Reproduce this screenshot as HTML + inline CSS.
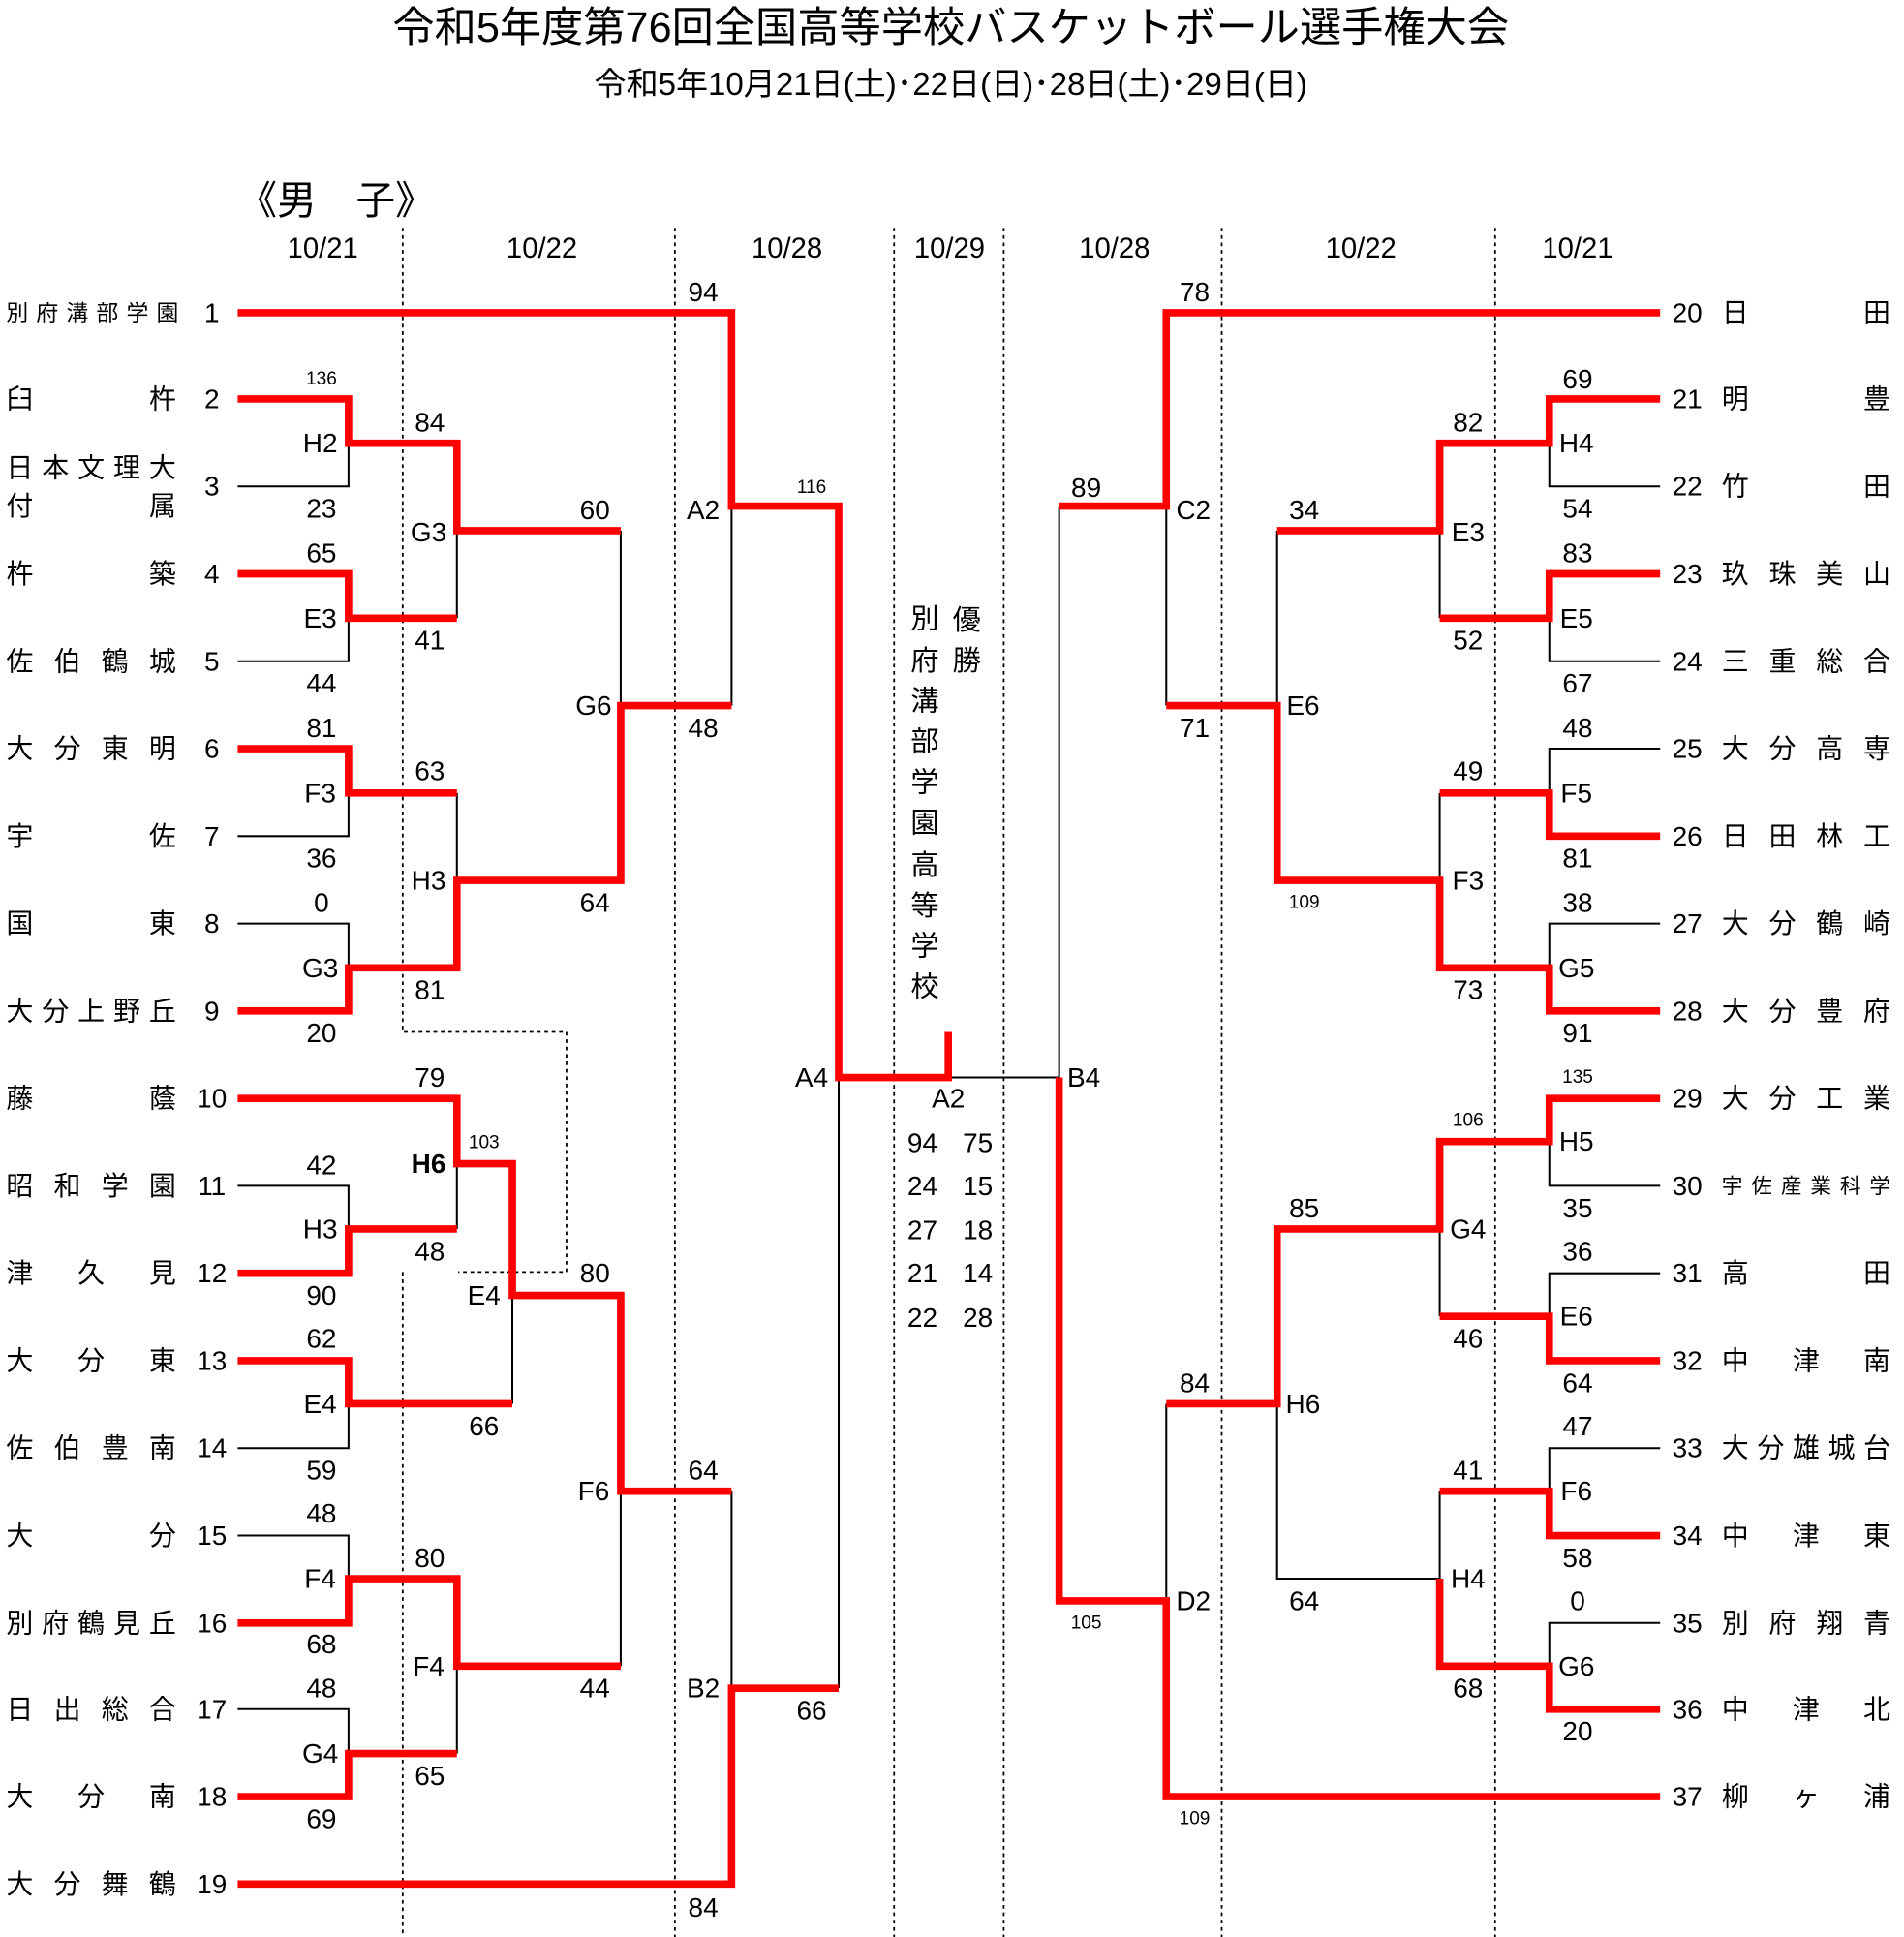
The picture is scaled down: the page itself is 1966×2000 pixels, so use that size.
<!DOCTYPE html>
<html><head><meta charset="utf-8"><style>
html,body{margin:0;padding:0;background:#fff;}
svg{display:block;}
text{font-family:"Liberation Sans","Noto Sans CJK JP",sans-serif;fill:#000;}
.s{font-size:22px;text-anchor:middle;dominant-baseline:central;}
.m{font-size:23px;text-anchor:middle;dominant-baseline:central;}
.t{font-size:15px;text-anchor:middle;dominant-baseline:central;}
.n{font-size:22px;dominant-baseline:central;}
.r{fill:none;stroke:#f00;stroke-width:6;stroke-linejoin:miter;stroke-linecap:butt;}
.b{fill:none;stroke:#000;stroke-width:1.6;}
.d{fill:none;stroke:#000;stroke-width:1.4;stroke-dasharray:3,3;}
</style></head><body>
<svg width="1966" height="2000" viewBox="0 0 1546 1573" preserveAspectRatio="none" xmlns="http://www.w3.org/2000/svg">
<text x="772" y="23" style="font-size:34px;text-anchor:middle;dominant-baseline:central">令和5年度第76回全国高等学校バスケットボール選手権大会</text>
<text x="772" y="69" style="font-size:26px;text-anchor:middle;dominant-baseline:central">令和5年10月21日(土)･22日(日)･28日(土)･29日(日)</text>
<text x="193" y="163" style="font-size:32px;dominant-baseline:central">《男　子》</text>
<g class="m">
<text x="262" y="202">10/21</text><text x="440" y="202">10/22</text><text x="639" y="202">10/28</text><text x="771" y="202">10/29</text>
<text x="905" y="202">10/28</text><text x="1105" y="202">10/22</text><text x="1281" y="202">10/21</text>
</g>
<path class="d" d="M327,185V838H460V1033H372M327,1033V1573M548,185V1573M726,185V1573M815,185V1573M992,185V1573M1214,185V1573"/>
<g class="b">
<polyline points="193,395 283,395 283,360"/><polyline points="193,537 283,537 283,502"/><polyline points="371,431 371,502"/>
<polyline points="193,679 283,679 283,644"/><polyline points="193,750 283,750 283,786"/><polyline points="371,644 371,715"/>
<polyline points="504,431 504,573"/><polyline points="594,411 594,573"/><polyline points="193,963 283,963 283,998"/>
<polyline points="371,945 371,998"/><polyline points="193,1176 283,1176 283,1140"/><polyline points="416,1052 416,1140"/>
<polyline points="193,1247 283,1247 283,1282"/><polyline points="193,1388 283,1388 283,1424"/><polyline points="371,1353 371,1424"/>
<polyline points="504,1211 504,1353"/><polyline points="594,1211 594,1371"/><polyline points="681,875 681,1371"/><polyline points="770,875 860,875"/>
<polyline points="1348,395 1258,395 1258,360"/><polyline points="1348,537 1258,537 1258,502"/><polyline points="1169,431 1169,502"/>
<polyline points="1348,608 1258,608 1258,644"/><polyline points="1348,750 1258,750 1258,786"/><polyline points="1169,644 1169,715"/>
<polyline points="1037,431 1037,573"/><polyline points="947,411 947,573"/><polyline points="860,411 860,875"/>
<polyline points="1348,963 1258,963 1258,927"/><polyline points="1348,1034 1258,1034 1258,1069"/><polyline points="1169,998 1169,1069"/>
<polyline points="1348,1176 1258,1176 1258,1211"/><polyline points="1348,1318 1258,1318 1258,1353"/><polyline points="1169,1211 1169,1282"/>
<polyline points="1169,1282 1037,1282 1037,1140"/><polyline points="947,1140 947,1300"/>
</g>
<g class="r">
<polyline points="193,254 594,254 594,411 681,411 681,875 770,875 770,838"/>
<polyline points="193,324 283,324 283,360 371,360 371,431 504,431"/>
<polyline points="193,466 283,466 283,502 371,502"/>
<polyline points="193,608 283,608 283,644 371,644"/>
<polyline points="193,821 283,821 283,786 371,786 371,715 504,715 504,573 594,573"/>
<polyline points="193,892 371,892 371,945 416,945 416,1052 504,1052 504,1211 594,1211"/>
<polyline points="193,1034 283,1034 283,998 371,998"/>
<polyline points="193,1105 283,1105 283,1140 416,1140"/>
<polyline points="193,1318 283,1318 283,1282 371,1282 371,1353 504,1353"/>
<polyline points="193,1459 283,1459 283,1424 371,1424"/>
<polyline points="193,1530 594,1530 594,1371 681,1371"/>
<polyline points="1348,254 947,254 947,411 860,411"/>
<polyline points="1348,324 1258,324 1258,360 1169,360 1169,431 1037,431"/>
<polyline points="1348,466 1258,466 1258,502 1169,502"/>
<polyline points="1348,679 1258,679 1258,644 1169,644"/>
<polyline points="1348,821 1258,821 1258,786 1169,786 1169,715 1037,715 1037,573 947,573"/>
<polyline points="1348,892 1258,892 1258,927 1169,927 1169,998 1037,998 1037,1140 947,1140"/>
<polyline points="1348,1105 1258,1105 1258,1069 1169,1069"/>
<polyline points="1348,1247 1258,1247 1258,1211 1169,1211"/>
<polyline points="1348,1388 1258,1388 1258,1353 1169,1353 1169,1282"/>
<polyline points="1348,1459 947,1459 947,1300 860,1300 860,875"/>
</g>
<g class="n">
<text x="5" y="254" style="font-size:18px" textLength="140" lengthAdjust="spacing">別府溝部学園</text>
<text x="5" y="324" textLength="138" lengthAdjust="spacing">臼　　　杵</text>
<text x="5" y="380" textLength="138" lengthAdjust="spacing">日本文理大</text>
<text x="5" y="411" textLength="138" lengthAdjust="spacing">付　　　属</text>
<text x="5" y="466" textLength="138" lengthAdjust="spacing">杵　　　築</text>
<text x="5" y="537" textLength="138" lengthAdjust="spacing">佐伯鶴城</text>
<text x="5" y="608" textLength="138" lengthAdjust="spacing">大分東明</text>
<text x="5" y="679" textLength="138" lengthAdjust="spacing">宇　　　佐</text>
<text x="5" y="750" textLength="138" lengthAdjust="spacing">国　　　東</text>
<text x="5" y="821" textLength="138" lengthAdjust="spacing">大分上野丘</text>
<text x="5" y="892" textLength="138" lengthAdjust="spacing">藤　　　蔭</text>
<text x="5" y="963" textLength="138" lengthAdjust="spacing">昭和学園</text>
<text x="5" y="1034" textLength="138" lengthAdjust="spacing">津　久　見</text>
<text x="5" y="1105" textLength="138" lengthAdjust="spacing">大　分　東</text>
<text x="5" y="1176" textLength="138" lengthAdjust="spacing">佐伯豊南</text>
<text x="5" y="1247" textLength="138" lengthAdjust="spacing">大　　　分</text>
<text x="5" y="1318" textLength="138" lengthAdjust="spacing">別府鶴見丘</text>
<text x="5" y="1388" textLength="138" lengthAdjust="spacing">日出総合</text>
<text x="5" y="1459" textLength="138" lengthAdjust="spacing">大　分　南</text>
<text x="5" y="1530" textLength="138" lengthAdjust="spacing">大分舞鶴</text>
</g>
<g class="s">
<text x="172" y="254">1</text><text x="172" y="324">2</text><text x="172" y="395">3</text><text x="172" y="466">4</text><text x="172" y="537">5</text>
<text x="172" y="608">6</text><text x="172" y="679">7</text><text x="172" y="750">8</text><text x="172" y="821">9</text><text x="172" y="892">10</text>
<text x="172" y="963">11</text><text x="172" y="1034">12</text><text x="172" y="1105">13</text><text x="172" y="1176">14</text><text x="172" y="1247">15</text>
<text x="172" y="1318">16</text><text x="172" y="1388">17</text><text x="172" y="1459">18</text><text x="172" y="1530">19</text>
<text x="1370" y="254">20</text><text x="1370" y="324">21</text><text x="1370" y="395">22</text><text x="1370" y="466">23</text><text x="1370" y="537">24</text>
<text x="1370" y="608">25</text><text x="1370" y="679">26</text><text x="1370" y="750">27</text><text x="1370" y="821">28</text><text x="1370" y="892">29</text>
<text x="1370" y="963">30</text><text x="1370" y="1034">31</text><text x="1370" y="1105">32</text><text x="1370" y="1176">33</text><text x="1370" y="1247">34</text>
<text x="1370" y="1318">35</text><text x="1370" y="1388">36</text><text x="1370" y="1459">37</text>
</g>
<g class="n">
<text x="1398" y="254" textLength="137" lengthAdjust="spacing">日　　　田</text>
<text x="1398" y="324" textLength="137" lengthAdjust="spacing">明　　　豊</text>
<text x="1398" y="395" textLength="137" lengthAdjust="spacing">竹　　　田</text>
<text x="1398" y="466" textLength="137" lengthAdjust="spacing">玖珠美山</text>
<text x="1398" y="537" textLength="137" lengthAdjust="spacing">三重総合</text>
<text x="1398" y="608" textLength="137" lengthAdjust="spacing">大分高専</text>
<text x="1398" y="679" textLength="137" lengthAdjust="spacing">日田林工</text>
<text x="1398" y="750" textLength="137" lengthAdjust="spacing">大分鶴崎</text>
<text x="1398" y="821" textLength="137" lengthAdjust="spacing">大分豊府</text>
<text x="1398" y="892" textLength="137" lengthAdjust="spacing">大分工業</text>
<text x="1398" y="963" style="font-size:17px" textLength="137" lengthAdjust="spacing">宇佐産業科学</text>
<text x="1398" y="1034" textLength="137" lengthAdjust="spacing">高　　　田</text>
<text x="1398" y="1105" textLength="137" lengthAdjust="spacing">中　津　南</text>
<text x="1398" y="1176" textLength="137" lengthAdjust="spacing">大分雄城台</text>
<text x="1398" y="1247" textLength="137" lengthAdjust="spacing">中　津　東</text>
<text x="1398" y="1318" textLength="137" lengthAdjust="spacing">別府翔青</text>
<text x="1398" y="1388" textLength="137" lengthAdjust="spacing">中　津　北</text>
<text x="1398" y="1459" textLength="137" lengthAdjust="spacing">柳　ヶ　浦</text>
</g>
<g class="s">
<text x="571" y="237">94</text><text x="260" y="360">H2</text><text x="349" y="343">84</text><text x="261" y="413">23</text>
<text x="348" y="432">G3</text><text x="483" y="414">60</text><text x="571" y="414">A2</text><text x="261" y="449">65</text>
<text x="260" y="502">E3</text><text x="349" y="520">41</text><text x="261" y="555">44</text><text x="482" y="573">G6</text>
<text x="571" y="591">48</text><text x="261" y="591">81</text><text x="260" y="644">F3</text><text x="349" y="626">63</text>
<text x="261" y="697">36</text><text x="348" y="715">H3</text><text x="483" y="733">64</text><text x="261" y="733">0</text>
<text x="260" y="786">G3</text><text x="349" y="804">81</text><text x="261" y="839">20</text><text x="659" y="875">A4</text>
<text x="349" y="875">79</text><text x="348" y="945" style="font-weight:bold">H6</text><text x="261" y="946">42</text>
<text x="260" y="998">H3</text><text x="349" y="1016">48</text><text x="261" y="1052">90</text><text x="393" y="1052">E4</text>
<text x="483" y="1034">80</text><text x="261" y="1087">62</text><text x="260" y="1140">E4</text><text x="393" y="1158">66</text>
<text x="261" y="1194">59</text><text x="571" y="1194">64</text><text x="482" y="1211">F6</text><text x="261" y="1229">48</text>
<text x="349" y="1265">80</text><text x="260" y="1282">F4</text><text x="261" y="1335">68</text><text x="348" y="1353">F4</text>
<text x="483" y="1371">44</text><text x="571" y="1371">B2</text><text x="659" y="1389">66</text><text x="261" y="1371">48</text>
<text x="349" y="1442">65</text><text x="260" y="1424">G4</text><text x="261" y="1477">69</text><text x="571" y="1549">84</text>
</g>
<g class="t">
<text x="261" y="308">136</text><text x="659" y="396">116</text><text x="393" y="928">103</text>
<text x="1059" y="733">109</text><text x="1281" y="875">135</text><text x="1192" y="910">106</text><text x="882" y="1318">105</text><text x="970" y="1477">109</text>
</g>
<g class="s" style="font-size:23px">
<text x="785" y="504">優</text><text x="785" y="537">勝</text>
<text x="751" y="503">別</text><text x="751" y="537">府</text><text x="751" y="570">溝</text><text x="751" y="603">部</text><text x="751" y="636">学</text>
<text x="751" y="669">園</text><text x="751" y="703">高</text><text x="751" y="736">等</text><text x="751" y="769">学</text><text x="751" y="802">校</text>
</g>
<g class="s">
<text x="770" y="892">A2</text>
<text x="749" y="928">94</text><text x="794" y="928">75</text>
<text x="749" y="963">24</text><text x="794" y="963">15</text>
<text x="749" y="999">27</text><text x="794" y="999">18</text>
<text x="749" y="1034">21</text><text x="794" y="1034">14</text>
<text x="749" y="1070">22</text><text x="794" y="1070">28</text>
</g>
<g class="s">
<text x="970" y="237">78</text><text x="882" y="396">89</text><text x="969" y="414">C2</text><text x="1281" y="308">69</text>
<text x="1192" y="343">82</text><text x="1280" y="360">H4</text><text x="1059" y="414">34</text><text x="1192" y="432">E3</text>
<text x="1281" y="413">54</text><text x="1281" y="449">83</text><text x="1280" y="502">E5</text><text x="1192" y="520">52</text>
<text x="1281" y="555">67</text><text x="1058" y="573">E6</text><text x="970" y="591">71</text><text x="1281" y="591">48</text>
<text x="1192" y="626">49</text><text x="1280" y="644">F5</text><text x="1281" y="697">81</text><text x="1192" y="715">F3</text>
<text x="1281" y="733">38</text><text x="1280" y="786">G5</text><text x="1192" y="804">73</text><text x="1281" y="839">91</text>
<text x="880" y="875">B4</text><text x="1280" y="927">H5</text><text x="1059" y="981">85</text><text x="1281" y="981">35</text>
<text x="1192" y="998">G4</text><text x="1281" y="1016">36</text><text x="1280" y="1069">E6</text><text x="1192" y="1087">46</text>
<text x="1281" y="1123">64</text><text x="970" y="1123">84</text><text x="1058" y="1140">H6</text><text x="1281" y="1158">47</text>
<text x="1192" y="1194">41</text><text x="1280" y="1211">F6</text><text x="1281" y="1265">58</text><text x="1192" y="1282">H4</text>
<text x="1059" y="1300">64</text><text x="969" y="1300">D2</text><text x="1281" y="1300">0</text><text x="1280" y="1353">G6</text>
<text x="1192" y="1371">68</text><text x="1281" y="1406">20</text>
</g>
</svg>
</body></html>
